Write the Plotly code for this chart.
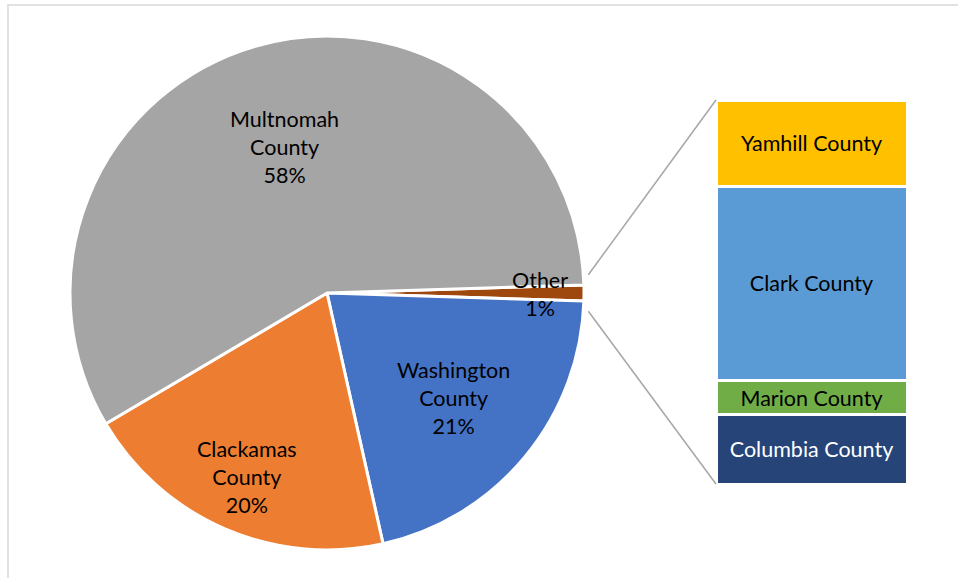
import math
import plotly.graph_objects as go

# pie data (share of total, %)
pie_labels = ["Other", "Washington County", "Clackamas County", "Multnomah County"]
pie_values = [1, 21, 20, 58]
pie_colors = ["#9e480e", "#4472c4", "#ed7d31", "#a5a5a5"]

# breakdown of "Other" (stacked bar, bottom to top)
bar_labels = ["Columbia County", "Marion County", "Clark County", "Yamhill County"]
bar_values = [18, 9, 50.5, 22.5]
bar_colors = ["#264478", "#70ad47", "#5b9bd5", "#ffc000"]
bar_text_colors = ["white", "black", "black", "black"]

W, H = 958, 578
FONT = "Lato"
FS = 21.5

# pie placement in pixels
cx, cy, r = 327, 293, 257
pie_dom_x = [(cx - r) / W, (cx + r) / W]
pie_dom_y = [1 - (cy + r) / H, 1 - (cy - r) / H]
# how far out (fraction of radius) each slice label sits
label_radius = [0.0, 0.64, 0.78, 0.59]

# bar placement in pixels
bx0, bx1, by0, by1 = 716, 907, 100, 484

total = sum(pie_values)
other_share = pie_values[0] / total
rotation = 90 - other_share * 360 / 2

fig = go.Figure()
fig.add_trace(go.Pie(
    labels=pie_labels, values=pie_values, sort=False, direction="clockwise",
    rotation=rotation, domain=dict(x=pie_dom_x, y=pie_dom_y),
    marker=dict(colors=pie_colors, line=dict(color="white", width=3)),
    textinfo="none", showlegend=False, hoverinfo="label+percent",
))

# slice labels along each slice's bisector
start = -other_share * 180  # degrees clockwise from 3 o'clock
for lbl, val, lr in zip(pie_labels, pie_values, label_radius):
    span = val / total * 360
    mid = math.radians(start + span / 2)
    start += span
    if lr == 0:
        continue
    px, py = cx + lr * r * math.cos(mid), cy + lr * r * math.sin(mid)
    fig.add_annotation(x=px / W, y=1 - py / H, xref="paper", yref="paper",
                       xanchor="center", yanchor="middle",
                       text=lbl.replace(" ", "<br>") + f"<br>{val / total:.0%}",
                       showarrow=False, font=dict(family=FONT, size=FS, color="black"))

for lbl, val, col, tc in zip(bar_labels, bar_values, bar_colors, bar_text_colors):
    fig.add_trace(go.Bar(
        x=[0], y=[val], width=1, name=lbl, text=[lbl], textposition="inside",
        insidetextanchor="middle", textangle=0,
        textfont=dict(family=FONT, size=FS, color=tc),
        marker=dict(color=col, line=dict(color="white", width=3)),
        showlegend=False, xaxis="x", yaxis="y",
    ))

# "Other" label drawn beside its thin slice
fig.add_annotation(x=540 / W, y=1 - 294 / H, xref="paper", yref="paper",
                   xanchor="center", yanchor="middle",
                   text=pie_labels[0] + "<br>" + f"{other_share:.0%}", showarrow=False,
                   font=dict(family=FONT, size=FS, color="black"))

# connector lines from the "Other" slice to the bar
half = other_share * 180 + 2.2
rr = r + 5
for sign, by in [(-1, by0), (1, by1)]:
    a = math.radians(sign * half)
    px, py = cx + rr * math.cos(a), cy + rr * math.sin(a)
    fig.add_shape(type="line", xref="paper", yref="paper",
                  x0=px / W, y0=1 - py / H, x1=bx0 / W, y1=1 - by / H,
                  line=dict(color="#a6a6a6", width=1.5))

# chart border
fig.add_shape(type="rect", xref="paper", yref="paper",
              x0=8 / W, y0=-0.05, x1=1.05, y1=1 - 5 / H,
              line=dict(color="#d9d9d9", width=1.5))

fig.update_layout(
    width=W, height=H, margin=dict(l=0, r=0, t=0, b=0),
    paper_bgcolor="white", plot_bgcolor="white", barmode="stack",
    xaxis=dict(domain=[bx0 / W, bx1 / W], range=[-0.5, 0.5], visible=False, fixedrange=True),
    yaxis=dict(domain=[1 - by1 / H, 1 - by0 / H], range=[0, sum(bar_values)], visible=False, fixedrange=True),
    uniformtext=dict(minsize=10, mode="show"),
)

fig.write_html("out.html", config={"displayModeBar": False},
               post_script="document.body.style.margin='0';")
